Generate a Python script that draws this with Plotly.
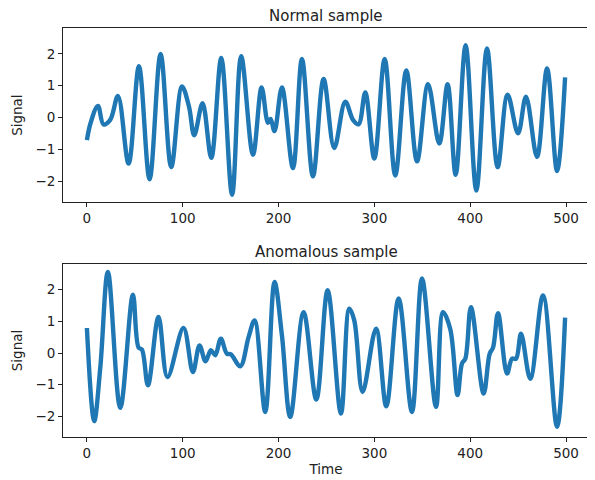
import plotly.graph_objects as go

# turning points (time, signal)
normal_t = [0, 4, 11.5, 17.3, 24.3, 32.4, 43.5, 54.3, 65.4, 76.9, 88, 99.2, 106.5, 112,
            120.7, 129.8, 140.2, 151.5, 161, 173.3, 182.3, 188.9, 191.7, 195.8, 203.5,
            215, 224.4, 235.9, 247, 258.1, 269.6, 277.7, 283.5, 290.5, 299.9, 310.7,
            321.8, 333.3, 344.5, 356, 367.7, 376.4, 384.8, 395.2, 406.4, 417.5, 428.6,
            439, 449.9, 458.2, 469.7, 480.2, 490.6, 499]
normal_y = [-0.70, -0.15, 0.37, -0.21, -0.07, 0.68, -1.44, 1.61, -1.93, 2.0, -1.55, 0.98,
            0.35, -0.55, 0.45, -1.26, 1.87, -2.42, 1.93, -1.16, 0.95, -0.16, -0.04, -0.42,
            0.95, -1.58, 1.84, -1.84, 1.21, -0.95, 0.50, -0.07, -0.21, 0.79, -1.28, 1.84,
            -1.81, 1.48, -1.37, 1.05, -0.81, 1.05, -1.79, 2.27, -2.28, 2.17, -1.55, 0.72,
            -0.49, 0.66, -1.23, 1.54, -1.67, 1.26]

anom_t = [0, 7.6, 14, 21.9, 34.8, 48, 53.9, 57.4, 63.7, 74.7, 84.1, 100.8, 110.6, 117.5,
          123.8, 129.4, 133.9, 139.8, 146.1, 150.3, 160, 168.7, 175, 186.1, 195.8, 203.5,
          212.2, 226.1, 239.4, 251.2, 265.1, 273.8, 279, 287.7, 301.7, 312.4, 325.3,
          339.2, 349.7, 364.3, 371.6, 379.2, 386.8, 391.4, 394.9, 400.8, 414, 420.3,
          423.8, 429, 438.4, 443.6, 447.8, 453, 462.7, 476, 490.6, 499]
anom_y = [0.79, -2.15, -0.44, 2.56, -1.73, 1.84, 0.17, 0.11, -1.02, 1.14, -0.76, 0.79,
          -0.6, 0.24, -0.26, 0.09, -0.07, 0.45, -0.02, -0.04, -0.42, 0.5, 1.03, -1.86,
          2.24, 0.56, -2.02, 1.29, -1.47, 1.98, -1.91, 1.40, 1.03, -1.23, 0.77, -1.68,
          1.72, -1.86, 2.35, -1.70, 1.29, 0.75, -1.33, -0.33, -0.18, 1.45, -1.28, -0.02,
          0.17, 1.26, -0.65, -0.18, -0.18, 0.61, -0.81, 1.82, -2.33, 1.12]

titles = ["Normal sample", "Anomalous sample"]
tick_vals = [-2, -1, 0, 1, 2]
x_ticks = [0, 100, 200, 300, 400, 500]

fig = go.Figure()
fig.add_trace(go.Scatter(x=normal_t, y=normal_y, mode="lines", line_shape="spline",
                         line=dict(color="#1f77b4", width=4.4), xaxis="x", yaxis="y"))
fig.add_trace(go.Scatter(x=anom_t, y=anom_y, mode="lines", line_shape="spline",
                         line=dict(color="#1f77b4", width=4.4), xaxis="x2", yaxis="y2"))

ax = dict(showgrid=False, zeroline=False, showline=True, linecolor="#222", linewidth=1,
          mirror=True, ticks="outside", ticklen=4, tickcolor="#222", automargin=False,
          tickfont=dict(size=13.5, color="#222"))

# page body has an 8px margin, so the figure is a bit smaller than the window
fig.update_layout(
    width=587, height=472, showlegend=False,
    paper_bgcolor="white", plot_bgcolor="white",
    font=dict(family="DejaVu Sans", color="#222"),
    margin=dict(l=55, r=6, t=20, b=43),
    xaxis=dict(ax, domain=[0, 1], range=[-24.95, 523.95], tickvals=x_ticks, anchor="y"),
    yaxis=dict(ax, domain=[0.574, 1], range=[-2.65, 2.81], tickvals=tick_vals, anchor="x",
               title=dict(text="Signal", font=dict(size=13.5), standoff=9)),
    xaxis2=dict(ax, domain=[0, 1], range=[-24.95, 523.95], tickvals=x_ticks, anchor="y2",
                title=dict(text="Time", font=dict(size=13.5), standoff=4)),
    yaxis2=dict(ax, domain=[0, 0.423], range=[-2.65, 2.81], tickvals=tick_vals, anchor="x2",
                title=dict(text="Signal", font=dict(size=13.5), standoff=9)),
    annotations=[
        dict(text=titles[0], x=0.5, y=1, xref="paper", yref="paper", yshift=1,
             xanchor="center", yanchor="bottom", showarrow=False, font=dict(size=15)),
        dict(text=titles[1], x=0.5, y=0.423, xref="paper", yref="paper", yshift=1,
             xanchor="center", yanchor="bottom", showarrow=False, font=dict(size=15)),
    ],
)

fig.write_html("out.html")
